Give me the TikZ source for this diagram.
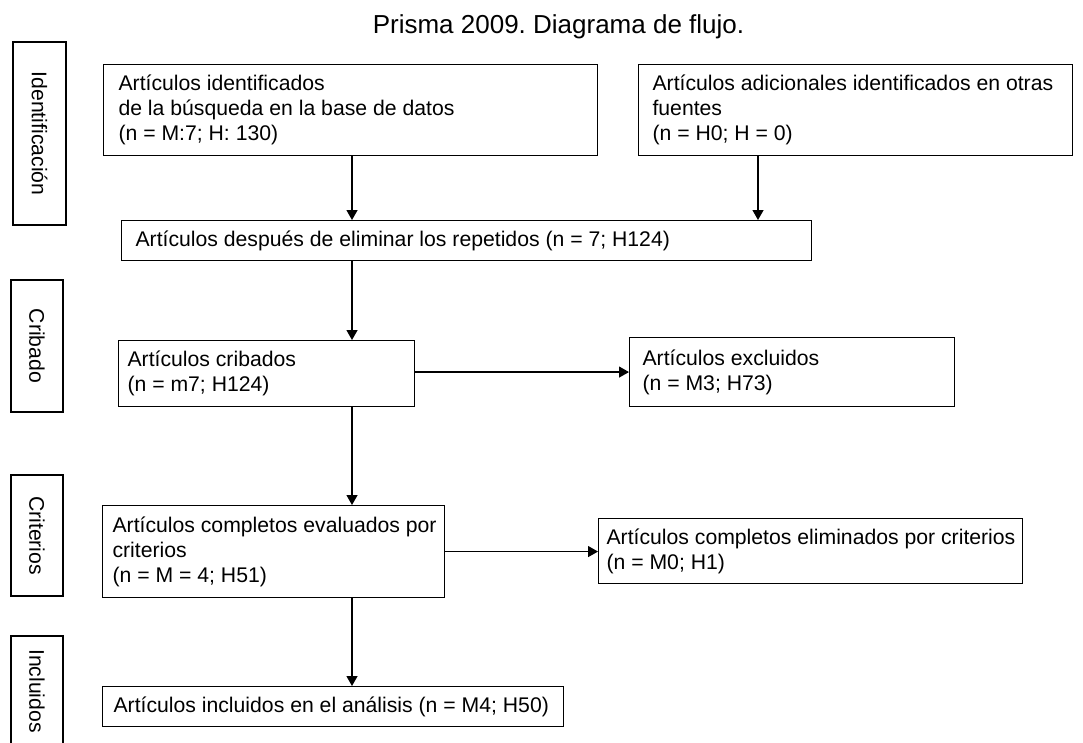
\documentclass[tikz,border=0pt]{standalone}
\usepackage{fontspec}
\setmainfont{Liberation Sans}
\usetikzlibrary{arrows.meta}
\tikzset{
  bodyfont/.style={font=\fontsize{21.2}{25}\selectfont},
  box/.style={draw, line width=1.1pt, anchor=north west, align=flush left, inner ysep=0pt, bodyfont},
  phase/.style={draw, line width=1.1pt, rotate=-90, inner sep=0pt, minimum height=52pt, bodyfont},
  arr/.style={-{Triangle[width=11pt,length=10pt]}, line width=1.3pt},
}
\begin{document}
\frenchspacing
\begin{tikzpicture}[x=1pt,y=-1pt]
\useasboundingbox (0,0) rectangle (1083,742);
% title
\node[anchor=base, font=\fontsize{26}{30}\selectfont] (title) at (558.5,33) {Prisma 2009. Diagrama de flujo.};
% phase labels
\node[phase, minimum width=183pt, minimum height=53pt] (pid) at (39.5,133.5) {Identificación};
\node[phase, minimum width=132pt] (pcr) at (37,346) {Cribado};
\node[phase, minimum width=121pt] (pct) at (37,535.5) {Criterios};
\node[phase, minimum width=110pt] (pin) at (37,691) {Incluidos};
% boxes
\node[box, inner xsep=15pt, text width=464pt, minimum height=91pt] (A) at (103,64)
  {\mbox{Artículos identificados}\\\mbox{de la búsqueda en la base de datos}\\\mbox{(n = M:7; H: 130)}};
\node[box, inner xsep=14pt, text width=406pt, minimum height=91pt] (B) at (638,64)
  {\mbox{Artículos adicionales identificados en otras}\\\mbox{fuentes}\\\mbox{(n = H0; H = 0)}};
\node[box, inner xsep=14pt, text width=662pt, minimum height=40pt] (C) at (121,220)
  {\mbox{Artículos después de eliminar los repetidos (n = 7; H124)}};
\node[box, inner xsep=9pt, text width=278pt, minimum height=66pt] (D) at (118,340)
  {\mbox{Artículos cribados}\\\mbox{(n = m7; H124)}};
\node[box, inner xsep=13pt, text width=299pt, minimum height=69pt] (E) at (629,337)
  {\mbox{Artículos excluidos}\\\mbox{(n = M3; H73)}};
\node[box, inner xsep=10pt, text width=322pt, minimum height=92pt] (F) at (102,505)
  {\mbox{Artículos completos evaluados por}\\\mbox{criterios}\\\mbox{(n = M = 4; H51)}};
\node[box, inner xsep=8pt, text width=408pt, minimum height=65pt] (G) at (598,518)
  {\mbox{Artículos completos eliminados por criterios}\\\mbox{(n = M0; H1)}};
\node[box, inner xsep=11pt, text width=439pt, minimum height=40pt] (H) at (102,686)
  {\mbox{Artículos incluidos en el análisis (n = M4; H50)}};
% connectors
\coordinate (spine) at (352,0);
\coordinate (rspine) at (758,0);
\draw[arr] (A.south -| spine) -- (C.north -| spine);
\draw[arr] (B.south -| rspine) -- (C.north -| rspine);
\draw[arr] (C.south -| spine) -- (D.north -| spine);
\draw[arr] (E.west -| D.east) -- (E.west);
\draw[arr] (D.south -| spine) -- (F.north -| spine);
\draw[arr] (F.east) -- (F.east -| G.west);
\draw[arr] (F.south -| spine) -- (H.north -| spine);
\end{tikzpicture}
\end{document}
